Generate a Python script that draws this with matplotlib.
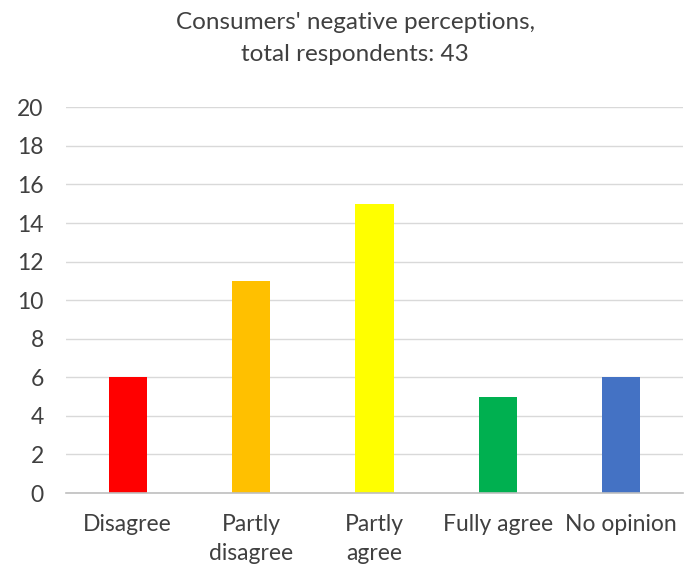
import matplotlib
matplotlib.use("Agg")
import matplotlib.pyplot as plt

categories = ["Disagree", "Partly\ndisagree", "Partly\nagree", "Fully agree", "No opinion"]
values = [6, 11, 15, 5, 6]
colors = ["#FF0000", "#FFC000", "#FFFF00", "#00B050", "#4472C4"]
yticks = [0, 2, 4, 6, 8, 10, 12, 14, 16, 18, 20]

plt.rcParams['font.family'] = ['Lato', 'DejaVu Sans']
fig = plt.figure(figsize=(6.87, 5.74), dpi=100)
ax = fig.add_axes([0.096, 0.141, 0.898, 0.672])
x = range(len(categories))
ax.bar(x, values, width=0.31, color=colors, zorder=3)
ax.set_xlim(-0.5, len(categories) - 0.5)
ax.set_ylim(0, 20)
ax.set_yticks(yticks)
ax.set_xticks(list(x))
ax.set_xticklabels(categories, fontsize=16.5, color="#404040", linespacing=1.45, va="top")
ax.tick_params(axis='y', labelsize=16.5, labelcolor="#404040", length=0, pad=16)
ax.tick_params(axis='x', length=0, pad=15)
ax.grid(axis='y', color="#D9D9D9", linewidth=1, zorder=0)
for s in ["left", "right", "top"]:
    ax.spines[s].set_visible(False)
ax.spines["bottom"].set_color("#BFBFBF")
ax.spines["bottom"].set_linewidth(1.2)
ax.spines["bottom"].set_zorder(4)
fig.text(0.517, 0.933, "Consumers' negative perceptions,\ntotal respondents: 43",
         ha="center", va="center", fontsize=17.5, color="#404040", linespacing=1.6)
fig.savefig("out.png", dpi=100)
